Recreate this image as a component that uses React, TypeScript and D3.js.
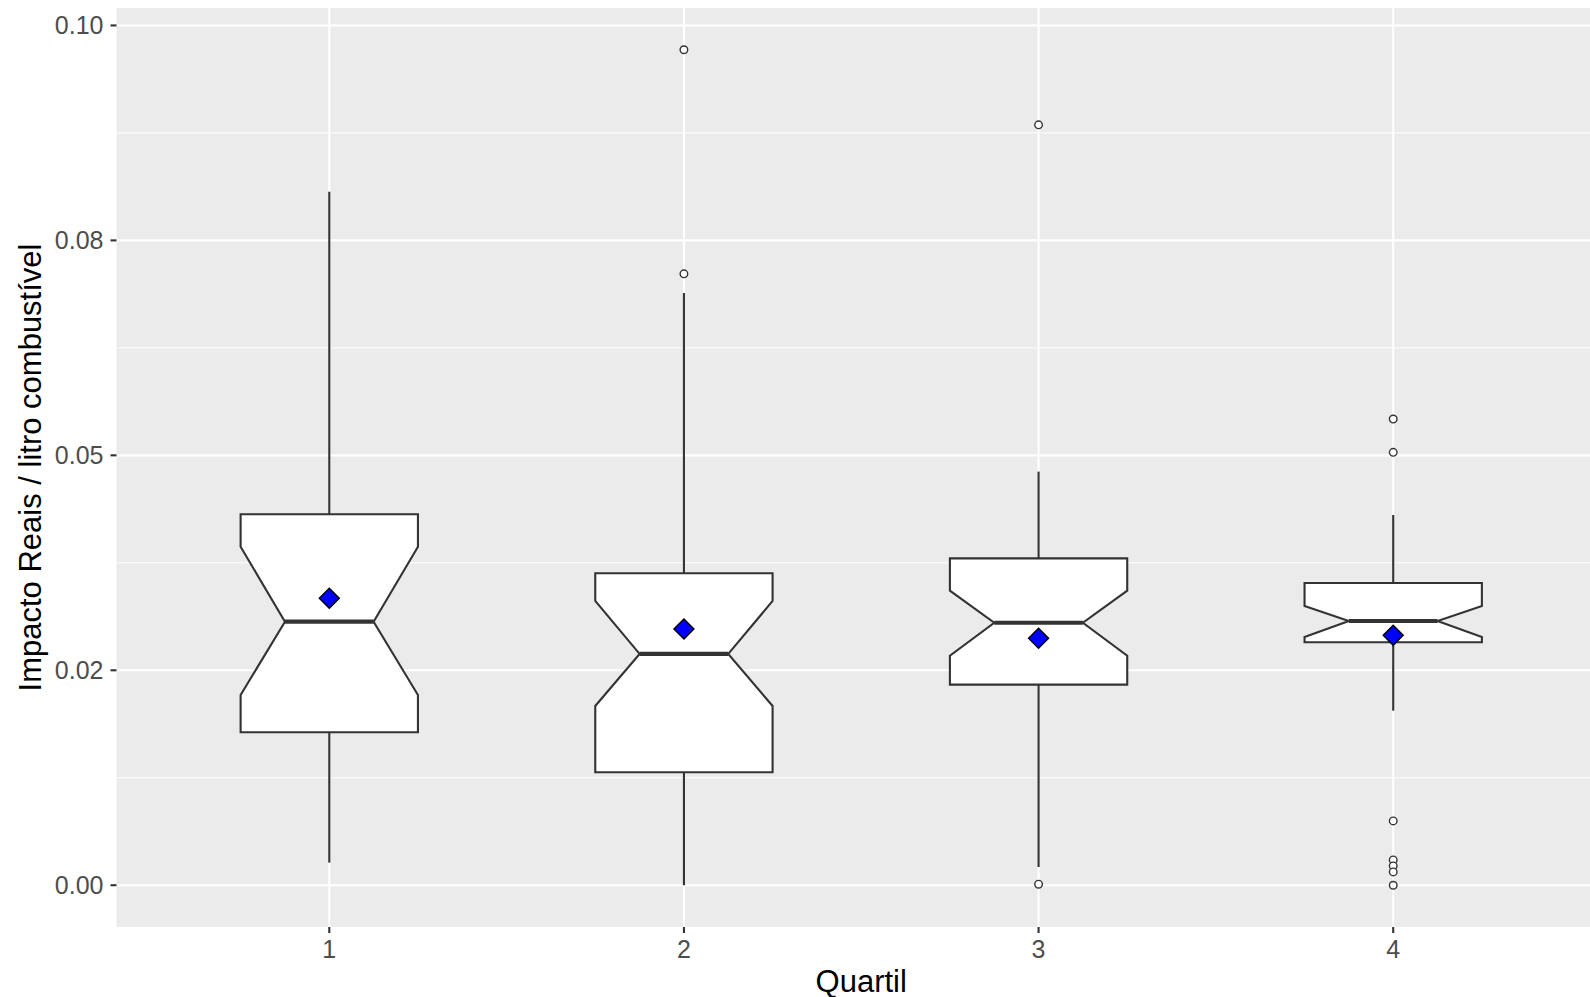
import React from "react";
import * as d3 from "d3";

// values
const quartis = ["1", "2", "3", "4"];
const q1 = [0.01779, 0.01314, 0.02333, 0.02826];
const medians = [0.03065, 0.0269, 0.03053, 0.03073];
const q3 = [0.04314, 0.03628, 0.03802, 0.03515];
const notchLow = [0.02213, 0.02085, 0.0267, 0.02887];
const notchHigh = [0.03937, 0.03306, 0.03426, 0.03248];
const whiskerLow = [0.00263, 0.0, 0.00212, 0.0203];
const whiskerHigh = [0.08065, 0.06887, 0.04811, 0.04306];
const means = [0.03337, 0.0298, 0.02872, 0.02907];
const outliers = [
  [],
  [0.07111, 0.09717],
  [0.08844, 0.00012],
  [0.05422, 0.05035, 0.00748, 0.00294, 0.00225, 0.00155, 0.0],
];
const yTicks = [0, 0.025, 0.05, 0.075, 0.1];
const yTickLabels = ["0.00", "0.02", "0.05", "0.08", "0.10"];
const yMinorTicks = [0.0125, 0.0375, 0.0625, 0.0875];

export default function App() {
  const width = 1590;
  const height = 997;
  const panel = { left: 116.5, right: 1606, top: 8, bottom: 927 };

  const allVals = [...whiskerLow, ...whiskerHigh, ...outliers.flat()];
  const [lo, hi] = d3.extent(allVals) as [number, number];
  const pad = (hi - lo) * 0.05;

  const y = d3
    .scaleLinear()
    .domain([lo - pad, hi + pad])
    .range([panel.bottom, panel.top]);

  const x = d3
    .scalePoint()
    .domain(quartis)
    .range([panel.left, panel.right])
    .padding(0.6);

  const boxW = x.step() * 0.5;
  const font = "Liberation Sans, Arial, Helvetica, sans-serif";
  const ink = "#333333";

  return (
    <div style={{ position: "absolute", left: 0, top: 0 }}>
      <svg width={width} height={height} style={{ display: "block" }}>
        <rect width={width} height={height} fill="#ffffff" />
        <rect
          x={panel.left}
          y={panel.top}
          width={panel.right - panel.left}
          height={panel.bottom - panel.top}
          fill="#EBEBEB"
        />
        {/* grid */}
        {yMinorTicks.map((t) => (
          <line key={"mn" + t} x1={panel.left} x2={panel.right} y1={y(t)} y2={y(t)} stroke="#fff" strokeWidth={1} />
        ))}
        {yTicks.map((t) => (
          <line key={"mj" + t} x1={panel.left} x2={panel.right} y1={y(t)} y2={y(t)} stroke="#fff" strokeWidth={2.1} />
        ))}
        {quartis.map((q) => (
          <line key={"vx" + q} x1={x(q)} x2={x(q)} y1={panel.top} y2={panel.bottom} stroke="#fff" strokeWidth={2.1} />
        ))}

        {/* boxes */}
        {quartis.map((q, i) => {
          const cx = x(q) as number;
          const l = cx - boxW / 2;
          const r = cx + boxW / 2;
          const nl = cx - boxW / 4;
          const nr = cx + boxW / 4;
          const path = d3.path();
          path.moveTo(l, y(q3[i]));
          path.lineTo(l, y(notchHigh[i]));
          path.lineTo(nl, y(medians[i]));
          path.lineTo(l, y(notchLow[i]));
          path.lineTo(l, y(q1[i]));
          path.lineTo(r, y(q1[i]));
          path.lineTo(r, y(notchLow[i]));
          path.lineTo(nr, y(medians[i]));
          path.lineTo(r, y(notchHigh[i]));
          path.lineTo(r, y(q3[i]));
          path.closePath();
          const my = y(means[i]);
          const d = 10;
          return (
            <g key={"box" + q}>
              <line x1={cx} x2={cx} y1={y(whiskerHigh[i])} y2={y(q3[i])} stroke={ink} strokeWidth={2.1} />
              <line x1={cx} x2={cx} y1={y(q1[i])} y2={y(whiskerLow[i])} stroke={ink} strokeWidth={2.1} />
              <path d={path.toString()} fill="#ffffff" stroke={ink} strokeWidth={2.1} strokeLinejoin="miter" />
              <line x1={nl} x2={nr} y1={y(medians[i])} y2={y(medians[i])} stroke={ink} strokeWidth={4.2} />
              {outliers[i].map((o, j) => (
                <circle key={j} cx={cx} cy={y(o)} r={3.8} fill="#ffffff" stroke={ink} strokeWidth={1.4} />
              ))}
              <path
                d={`M${cx},${my - d}L${cx + d},${my}L${cx},${my + d}L${cx - d},${my}Z`}
                fill="#0000FF"
                stroke="#000000"
                strokeWidth={1.4}
              />
            </g>
          );
        })}

        {/* y axis */}
        {yTicks.map((t, i) => (
          <g key={"yt" + t}>
            <line x1={panel.left - 6} x2={panel.left} y1={y(t)} y2={y(t)} stroke={ink} strokeWidth={2.1} />
            <text
              x={panel.left - 13}
              y={y(t)}
              dy="0.36em"
              textAnchor="end"
              fontFamily={font}
              fontSize={25}
              fill="#4D4D4D"
            >
              {yTickLabels[i]}
            </text>
          </g>
        ))}
        {/* x axis */}
        {quartis.map((q) => (
          <g key={"xt" + q}>
            <line x1={x(q)} x2={x(q)} y1={panel.bottom} y2={panel.bottom + 6} stroke={ink} strokeWidth={2.1} />
            <text x={x(q)} y={panel.bottom + 31} textAnchor="middle" fontFamily={font} fontSize={25} fill="#4D4D4D">
              {q}
            </text>
          </g>
        ))}
        <text
          x={(panel.left + panel.right) / 2}
          y={992}
          textAnchor="middle"
          fontFamily={font}
          fontSize={31}
          fill="#000000"
        >
          Quartil
        </text>
        <text
          transform={`translate(41,${(panel.top + panel.bottom) / 2}) rotate(-90)`}
          textAnchor="middle"
          fontFamily={font}
          fontSize={31}
          fill="#000000"
        >
          Impacto Reais / litro combustível
        </text>
      </svg>
    </div>
  );
}
